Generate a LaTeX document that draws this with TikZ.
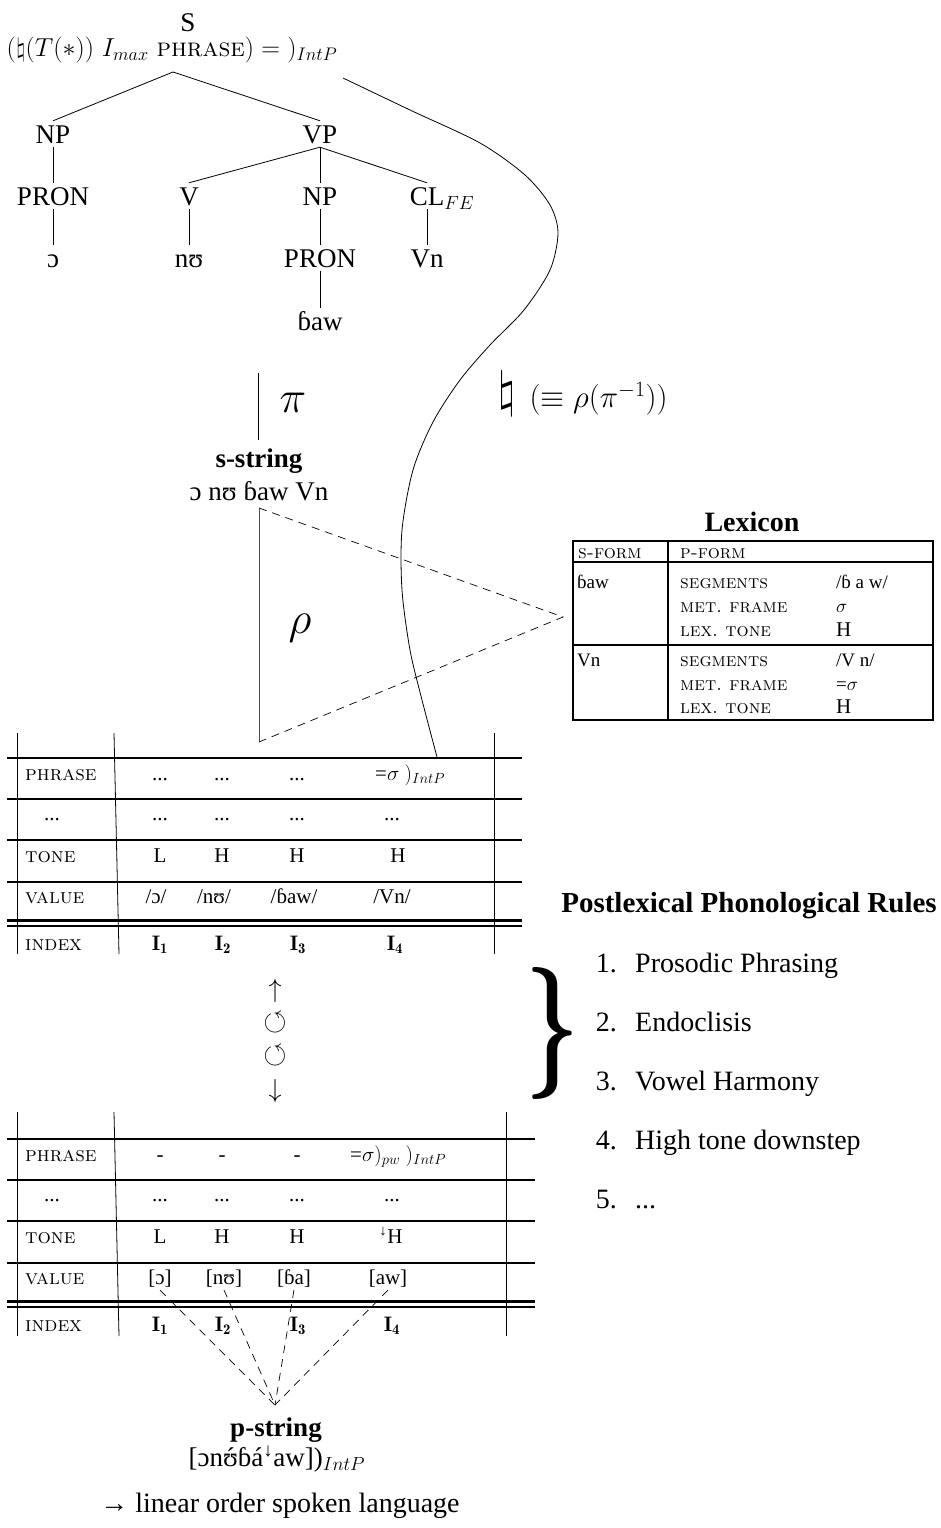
\RequirePackage{fix-cm}
\documentclass[tikz,border=0pt]{standalone}
\usepackage{amssymb}
\usepackage{graphicx}
\usepackage{fontspec}
\newfontfamily\tm{Liberation Serif}
\newcommand\fsz[1]{\fontsize{#1}{#1}\selectfont}
\newcommand\acuteon[1]{\ooalign{#1\cr\hidewidth´\hidewidth\cr}}
\tikzset{
  tree/.style={font=\tm\fsz{27}, inner sep=4pt, text height=18pt, text depth=0pt},
  branch/.style={line width=0.8pt},
  hl/.style={line width=2.4pt},
  vl/.style={line width=0.8pt},
  cell/.style={font=\tm\fsz{21}, inner sep=0pt, anchor=base},
  lab/.style={font=\fsz{21}\scshape, inner sep=0pt, anchor=base west},
  lexsc/.style={font=\fsz{19}\scshape, inner sep=0pt, anchor=base west},
  lextx/.style={font=\tm\fsz{19}, inner sep=0pt, anchor=base west},
  dashline/.style={dash pattern=on 8pt off 6pt, line width=0.7pt},
  ruleitem/.style={font=\tm\fsz{28}, inner sep=0pt, anchor=base west},
  rulenum/.style={font=\tm\fsz{28}, inner sep=0pt, anchor=base east},
}
\begin{document}
\begin{tikzpicture}[x=1pt, y=-1pt]
\useasboundingbox (0,0) rectangle (940,1528);

% ---------- syntactic tree ----------
\node[tree] (S) at (188,23) {S};
\node[font=\fsz{26}, inner sep=0pt] (form) at (172,50)
  {$(\natural(T(*))$ $I_{max}$ {\scshape phrase}$) = \;)_{IntP}$};
\coordinate (top) at (173,72);
\node[tree] (NP1) at (53,134) {NP};
\node[tree] (VP) at (320,134) {VP};
\node[tree] (PRON1) at (53,196) {PRON};
\node[tree] (V) at (189,196) {V};
\node[tree] (NP2) at (320,196) {NP};
\node[tree] (CL) at (427,196) {CL\rlap{$_{FE}$}};
\node[tree] (o) at (53,258) {ɔ};
\node[tree] (nu) at (189,258) {nʊ};
\node[tree] (PRON2) at (320,258) {PRON};
\node[tree] (Vn) at (427,258) {Vn};
\node[tree] (baw) at (320,321) {ɓaw};
\draw[branch] (top) -- (NP1.north);
\draw[branch] (top) -- (VP.north);
\draw[branch] (NP1) -- (PRON1);
\draw[branch] (PRON1) -- (o);
\draw[branch] (VP.south) -- (V.north);
\draw[branch] (VP) -- (NP2);
\draw[branch] (VP.south) -- (CL.north);
\draw[branch] (V) -- (nu);
\draw[branch] (NP2) -- (PRON2);
\draw[branch] (CL) -- (Vn);
\draw[branch] (PRON2) -- (baw);

% ---------- natural mapping curve ----------
\coordinate (cstart) at (343,78);
\coordinate (cend) at (437,757);
\draw[branch] plot[smooth, tension=0.5] coordinates {(343,78) (410,110) (480,143) (525,175) (550,205) (558,233) (550,270) (524,310) (490,345) (460,380) (433,422) (413,470) (402,530) (402,590) (410,650) (422,700) (437,757)};
\node[font=\fsz{50}] (nat) at (507,394) {$\natural$};
\node[font=\fsz{31}, anchor=west] (natdef) at (526,399) {$(\equiv\rho(\pi^{-1}))$};

% ---------- pi and s-string ----------
\coordinate (pitop) at (258,373);
\coordinate (pibot) at (258,440);
\draw[branch] (pitop) -- (pibot);
\node[font=\fsz{45}] (pi) at (293,403) {$\pi$};
\node[font=\tm\bfseries\fsz{27}, anchor=base, inner sep=0pt] (sstr) at (259,467) {s-string};
\node[font=\tm\fsz{27}, anchor=base, inner sep=0pt] (sform) at (259,500) {ɔ nʊ ɓaw Vn};

% ---------- rho triangle ----------
\coordinate (ta) at (259,508);
\coordinate (tb) at (259,742);
\coordinate (tc) at (563,617);
\draw[line width=0.8pt, black!70] (ta) -- (tb);
\draw[dashline] (ta) -- (tc) -- (tb);
\node[font=\fsz{45}] (rho) at (300,628) {$\rho$};

% ---------- lexicon ----------
\node[font=\tm\bfseries\fsz{28}] (lexh) at (752,522) {Lexicon};
\draw[line width=1.3pt] (573,541) rectangle (933,720);
\draw[line width=1.3pt] (668,541) -- (668,720);
\draw[line width=1.3pt] (573,562) -- (933,562);
\draw[line width=1.3pt] (573,645) -- (933,645);
\node[lexsc] at (578,558) {s-form};
\node[lexsc] at (680,558) {p-form};
\node[lextx] at (577,588) {ɓaw};
\node[lexsc] at (680,588) {segments};
\node[lextx] at (836,588) {/ɓ a w/};
\node[lexsc] at (680,612) {met.\ frame};
\node[lextx] at (836,612) {$\sigma$};
\node[lexsc] at (680,636) {lex.\ tone};
\node[lextx, font=\tm\fsz{21}] at (836,636) {H};
\node[lextx] at (577,666) {Vn};
\node[lexsc] at (680,666) {segments};
\node[lextx] at (836,666) {/V n/};
\node[lexsc] at (680,690) {met.\ frame};
\node[lextx] at (836,690) {=$\sigma$};
\node[lexsc] at (680,713) {lex.\ tone};
\node[lextx, font=\tm\fsz{21}] at (836,713) {H};

% ---------- input feature table ----------
\draw[vl] (17,733) -- (17,954);
\draw[vl] (114,733) -- (119,954);
\draw[vl] (494,733) -- (494,954);
\foreach \y in {758,799,840,882,920.5,926} \draw[hl] (7,\y) -- (522,\y);
\node[lab] at (25,780) {phrase};
\node[cell] at (160,780) {...};
\node[cell] at (222,780) {...};
\node[cell] at (297,780) {...};
\node[cell, anchor=base west] at (375,780) {=$\sigma$ $)_{IntP}$};
\node[cell] at (52,820) {...};
\node[cell] at (160,820) {...};
\node[cell] at (222,820) {...};
\node[cell] at (297,820) {...};
\node[cell] at (392,820) {...};
\node[lab] at (25,862) {tone};
\node[cell] at (160,862) {L};
\node[cell] at (222,862) {H};
\node[cell] at (297,862) {H};
\node[cell] at (398,862) {H};
\node[lab] at (25,903) {value};
\node[cell] at (156,903) {/ɔ/};
\node[cell] at (214,903) {/nʊ/};
\node[cell] at (294,903) {/ɓaw/};
\node[cell] at (392,903) {/Vn/};
\node[lab] at (25,950) {index};
\node[cell] at (160,950) {$\mathbf{I_1}$};
\node[cell] at (223,950) {$\mathbf{I_2}$};
\node[cell] at (298,950) {$\mathbf{I_3}$};
\node[cell] at (395,950) {$\mathbf{I_4}$};

% ---------- rule cycle ----------
\node[font=\fsz{26}] (up) at (275,991) {$\uparrow$};
\node[font=\fsz{30}] (cyc1) at (275,1023) {$\circlearrowleft$};
\node[font=\fsz{30}] (cyc2) at (275,1056) {$\circlearrowleft$};
\node[font=\fsz{26}] (down) at (275,1091) {$\downarrow$};
\node[inner sep=0pt] (brace) at (553,1033) {\resizebox*{54pt}{132pt}{\boldmath$\}$}};

\node[font=\tm\bfseries\fsz{29}, anchor=base, inner sep=0pt] (rh) at (749,912) {Postlexical Phonological Rules};
\node[rulenum] at (617,972) {1.};
\node[ruleitem] at (635,972) {Prosodic Phrasing};
\node[rulenum] at (617,1031) {2.};
\node[ruleitem] at (635,1031) {Endoclisis};
\node[rulenum] at (617,1090) {3.};
\node[ruleitem] at (635,1090) {Vowel Harmony};
\node[rulenum] at (617,1149) {4.};
\node[ruleitem] at (635,1149) {High tone downstep};
\node[rulenum] at (617,1208) {5.};
\node[ruleitem] at (635,1208) {...};

% ---------- output feature table ----------
\draw[vl] (17,1112) -- (17,1336);
\draw[vl] (114,1112) -- (119,1336);
\draw[vl] (506,1112) -- (506,1336);
\foreach \y in {1139,1180,1221,1263,1301.5,1307} \draw[hl] (7,\y) -- (535,\y);
\node[lab] at (25,1161) {phrase};
\node[cell] at (160,1161) {-};
\node[cell] at (222,1161) {-};
\node[cell] at (297,1161) {-};
\node[cell, anchor=base west] at (350,1161) {=$\sigma)_{pw}$ $)_{IntP}$};
\node[cell] at (52,1201) {...};
\node[cell] at (160,1201) {...};
\node[cell] at (222,1201) {...};
\node[cell] at (297,1201) {...};
\node[cell] at (392,1201) {...};
\node[lab] at (25,1243) {tone};
\node[cell] at (160,1243) {L};
\node[cell] at (222,1243) {H};
\node[cell] at (297,1243) {H};
\node[cell] at (391,1243) {\textsuperscript{↓}H};
\node[lab] at (25,1284) {value};
\node[cell, inner sep=3pt] (v1) at (160,1284) {[ɔ]};
\node[cell, inner sep=3pt] (v2) at (224,1284) {[nʊ]};
\node[cell, inner sep=3pt] (v3) at (294,1284) {[ɓa]};
\node[cell, inner sep=3pt] (v4) at (388,1284) {[aw]};
\node[lab] at (25,1331) {index};
\node[cell] at (160,1331) {$\mathbf{I_1}$};
\node[cell] at (223,1331) {$\mathbf{I_2}$};
\node[cell] at (298,1331) {$\mathbf{I_3}$};
\node[cell] at (392,1331) {$\mathbf{I_4}$};

% ---------- p-string ----------
\node[font=\tm\bfseries\fsz{27}, anchor=base, inner sep=0pt] (pstr) at (276,1436) {p-string};
\coordinate (meet) at (275,1405);
\draw[dashline] (v1.south) -- (meet);
\draw[dashline] (v2.south) -- (meet);
\draw[dashline] (v3.south) -- (meet);
\draw[dashline] (v4.south) -- (meet);
\node[font=\tm\fsz{27}, anchor=base, inner sep=0pt] (pform) at (277,1466) {[ɔn\acuteon{ʊ}ɓá\textsuperscript{↓}aw])$_{IntP}$};
\node[font=\tm\fsz{28}, anchor=base, inner sep=0pt] (lin) at (280,1512) {→ linear order spoken language};
\end{tikzpicture}
\end{document}
